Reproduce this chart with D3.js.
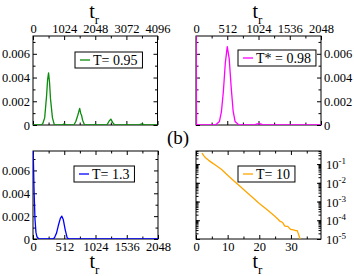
<!doctype html>
<html>
<head>
    <meta charset="utf-8" />
    <title></title>
    <style>
        body { margin: 0; background: #fff; }
        svg text { font-family: "Liberation Serif", "Times New Roman", serif; fill: #000; }
        .frame { fill: none; stroke: #000; stroke-width: 1; }
        .tick line { stroke: #000; }
        .legend rect { fill: #fff; stroke: #000; stroke-width: 1; }
    </style>
</head>
<body>
    <script src="https://cdn.jsdelivr.net/npm/d3@7"></script>
    <script>
        // T = 0.95 (top left)
        var tr1 = [0, 256, 320, 384, 448, 480, 512, 544, 576, 640, 704, 960, 1024, 1088,
                   1344, 1408, 1472, 1504, 1536, 1568, 1600, 1632, 1696, 1984, 2048, 2112,
                   2432, 2496, 2560, 2624, 2688, 3008, 3072, 3136, 3456, 3584, 3712, 4096];
        var p1 = [0, 0, 0.0001, 0.0006, 0.0025, 0.0038, 0.0044, 0.0036, 0.0022, 0.0006, 0, 0, 0.0001, 0,
                  0, 0.0003, 0.0008, 0.0011, 0.0014, 0.0010, 0.0008, 0.0004, 0, 0, 0.00005, 0,
                  0, 0.0003, 0.0005, 0.0002, 0, 0, 0.00003, 0, 0, 0.0001, 0, 0];

        // T* = 0.98 (top right)
        var tr2 = [0, 8, 320, 384, 416, 448, 480, 512, 544, 576, 608, 640, 704, 960, 1000, 1060, 1100, 2048];
        var p2 = [0.012, 0, 0, 0.0003, 0.0011, 0.0028, 0.0052, 0.0066, 0.0056, 0.0032, 0.0012, 0.0003, 0,
                  0, 0.0001, 0.0001, 0, 0];

        // T = 1.3 (bottom left)
        var tr3 = [0, 16, 32, 48, 64, 96, 320, 352, 384, 416, 448, 472, 496, 528, 560, 592, 2048];
        var p3 = [0.0085, 0.0045, 0.0018, 0.0006, 0.0002, 0, 0, 0.0001, 0.0005, 0.0012, 0.0018, 0.0020,
                  0.0017, 0.0008, 0.0001, 0, 0];

        // T = 10 (bottom right, log scale)
        var tr4 = [1.9, 2.5, 3, 4, 5, 6, 8, 10, 12, 14, 16, 18, 20, 22, 24, 25, 26, 26.5, 27, 27.5,
                   28, 28.5, 29, 29.5, 30, 30.5, 31, 31.5, 32, 32.5, 33];
        var p4 = [0.389, 0.275, 0.219, 0.158, 0.120, 0.0912, 0.0525, 0.0251, 0.0126, 0.0063, 0.00316,
                  0.00158, 7.9e-4, 4.2e-4, 2.2e-4, 1.6e-4, 1.1e-4, 8.9e-5, 8.3e-5, 7.1e-5, 5.0e-5,
                  4.7e-5, 4.7e-5, 3.8e-5, 3.2e-5, 3.2e-5, 3.0e-5, 2.8e-5, 2.8e-5, 1.6e-5, 8.9e-6];

        var ticks4096 = [0, 1024, 2048, 3072, 4096];
        var ticks2048 = [0, 512, 1024, 1536, 2048];
        var ticksLin = [0, 0.002, 0.004, 0.006];
        var ticksT10 = [0, 10, 20, 30];
        var ticksLog = [1e-1, 1e-2, 1e-3, 1e-4, 1e-5];

        var W = 354, H = 276;
        var svg = d3.select("body").append("svg").attr("width", W).attr("height", H);

        var fmtLin = function(d) { return d === 0 ? "0" : d3.format(".3f")(d); };

        function range(a, b, s) {
            var r = [];
            for (var v = a; v <= b + 1e-9; v += s) r.push(+v.toFixed(6));
            return r;
        }

        function logMinor(lo, hi) {
            var r = [];
            for (var e = -6; e <= 0; e++) {
                for (var m = 1; m < 10; m++) {
                    var v = m * Math.pow(10, e);
                    if (v >= lo && v <= hi) r.push(v);
                }
            }
            return r;
        }

        function panel(o) {
            var g = svg.append("g");
            var x = d3.scaleLinear().domain(o.xDom).range([o.left, o.right]);
            var y = (o.log ? d3.scaleLog() : d3.scaleLinear()).domain(o.yDom).range([o.bottom, o.top]);

            var id = "clip" + o.id;
            svg.append("clipPath").attr("id", id).append("rect")
                .attr("x", o.left).attr("y", o.top)
                .attr("width", o.right - o.left).attr("height", o.bottom - o.top);

            // ticks on all sides, pointing inward
            function ax(gen, scale, vals, size, tx, ty, labels, fmt) {
                var a = gen(scale).tickValues(vals).tickSizeInner(-size).tickSizeOuter(0).tickPadding(3);
                a.tickFormat(labels ? fmt : "");
                var s = g.append("g").attr("transform", "translate(" + tx + "," + ty + ")").call(a);
                s.attr("font-family", "Liberation Serif, Times New Roman, serif").attr("font-size", 12.5);
                s.select(".domain").remove();
                return s;
            }

            var xMinor = o.xMinor, yMinor = o.yMinor;
            ax(d3.axisTop, x, xMinor, 2.5, 0, o.top, false);
            ax(d3.axisBottom, x, xMinor, 2.5, 0, o.bottom, false);
            ax(d3.axisLeft, y, yMinor, 2.5, o.left, 0, false);
            ax(d3.axisRight, y, yMinor, 2.5, o.right, 0, false);

            ax(d3.axisTop, x, o.xTicks, 4, 0, o.top, o.xSide === "top", d3.format("d"));
            ax(d3.axisBottom, x, o.xTicks, 4, 0, o.bottom, o.xSide === "bottom", d3.format("d"));
            ax(d3.axisLeft, y, o.yTicks, 4, o.left, 0, o.ySide === "left", fmtLin);
            var yr = ax(d3.axisRight, y, o.yTicks, 4, o.right, 0, o.ySide === "right" && !o.log, fmtLin);

            if (o.log) {
                yr.selectAll(".tick").each(function(d) {
                    var t = d3.select(this).append("text")
                        .attr("x", 5).attr("y", 4.5).attr("text-anchor", "start")
                        .style("font-size", "12.5px");
                    t.append("tspan").text("10");
                    t.append("tspan").attr("dy", -5).style("font-size", "9px")
                        .text(Math.round(Math.log10(d)));
                });
            }

            g.append("rect").attr("class", "frame")
                .attr("x", o.left).attr("y", o.top)
                .attr("width", o.right - o.left).attr("height", o.bottom - o.top);

            var line = d3.line().x(function(d) { return x(d[0]); }).y(function(d) { return y(d[1]); });
            g.append("path")
                .datum(d3.zip(o.xs, o.ys))
                .attr("clip-path", "url(#" + id + ")")
                .attr("fill", "none").attr("stroke", o.color).attr("stroke-width", 1.3)
                .attr("stroke-linejoin", "round")
                .attr("d", line);

            // legend
            var lg = g.append("g").attr("class", "legend");
            var box = lg.append("rect").attr("x", o.lx).attr("y", o.ly).attr("height", 16);
            lg.append("line")
                .attr("x1", o.lx + 5).attr("x2", o.lx + 15)
                .attr("y1", o.ly + 8).attr("y2", o.ly + 8)
                .attr("stroke", o.color).attr("stroke-width", 1.3);
            var txt = lg.append("text").attr("x", o.lx + 18).attr("y", o.ly + 12.5)
                .style("font-size", "14px").text(o.label);
            box.attr("width", txt.node().getComputedTextLength() + 23);

            // axis title t_r
            var cx = (o.left + o.right) / 2;
            var ty = o.xSide === "top" ? 18 : 268;
            var tt = g.append("text").attr("x", cx - 6).attr("y", ty).style("font-size", "20px");
            tt.append("tspan").text("t");
            tt.append("tspan").attr("dy", 6).style("font-size", "13px").text("r");
        }

        panel({
            id: 1, left: 33, right: 157.5, top: 36, bottom: 125,
            xDom: [0, 4096], yDom: [0, 0.0075],
            xTicks: ticks4096, xMinor: range(512, 3584, 1024),
            yTicks: ticksLin, yMinor: range(0.001, 0.007, 0.002),
            xSide: "top", ySide: "left",
            xs: tr1, ys: p1, color: "#0c8c0c",
            lx: 75, ly: 52, label: "T= 0.95"
        });

        panel({
            id: 2, left: 196, right: 321, top: 36, bottom: 125,
            xDom: [0, 2048], yDom: [0, 0.0075],
            xTicks: ticks2048, xMinor: range(256, 1792, 512),
            yTicks: ticksLin, yMinor: range(0.001, 0.007, 0.002),
            xSide: "top", ySide: "right",
            xs: tr2, ys: p2, color: "#ff00ff",
            lx: 238, ly: 50, label: "T* = 0.98"
        });

        panel({
            id: 3, left: 33, right: 158, top: 151, bottom: 239,
            xDom: [0, 2048], yDom: [0, 0.0077],
            xTicks: ticks2048, xMinor: range(256, 1792, 512),
            yTicks: ticksLin, yMinor: range(0.001, 0.007, 0.002),
            xSide: "bottom", ySide: "left",
            xs: tr3, ys: p3, color: "#0000ff",
            lx: 74, ly: 166, label: "T= 1.3"
        });

        panel({
            id: 4, left: 196, right: 321, top: 151, bottom: 239,
            xDom: [0, 39.5], yDom: [1e-5, 0.5], log: true,
            xTicks: ticksT10, xMinor: [5, 15, 25, 35],
            yTicks: ticksLog, yMinor: logMinor(1e-5, 0.5),
            xSide: "bottom", ySide: "right",
            xs: tr4, ys: p4, color: "#ffa500",
            lx: 238, ly: 166, label: "T= 10"
        });

        svg.append("text").attr("x", 178).attr("y", 144).attr("text-anchor", "middle")
            .style("font-size", "19px").text("(b)");
    </script>
</body>
</html>
